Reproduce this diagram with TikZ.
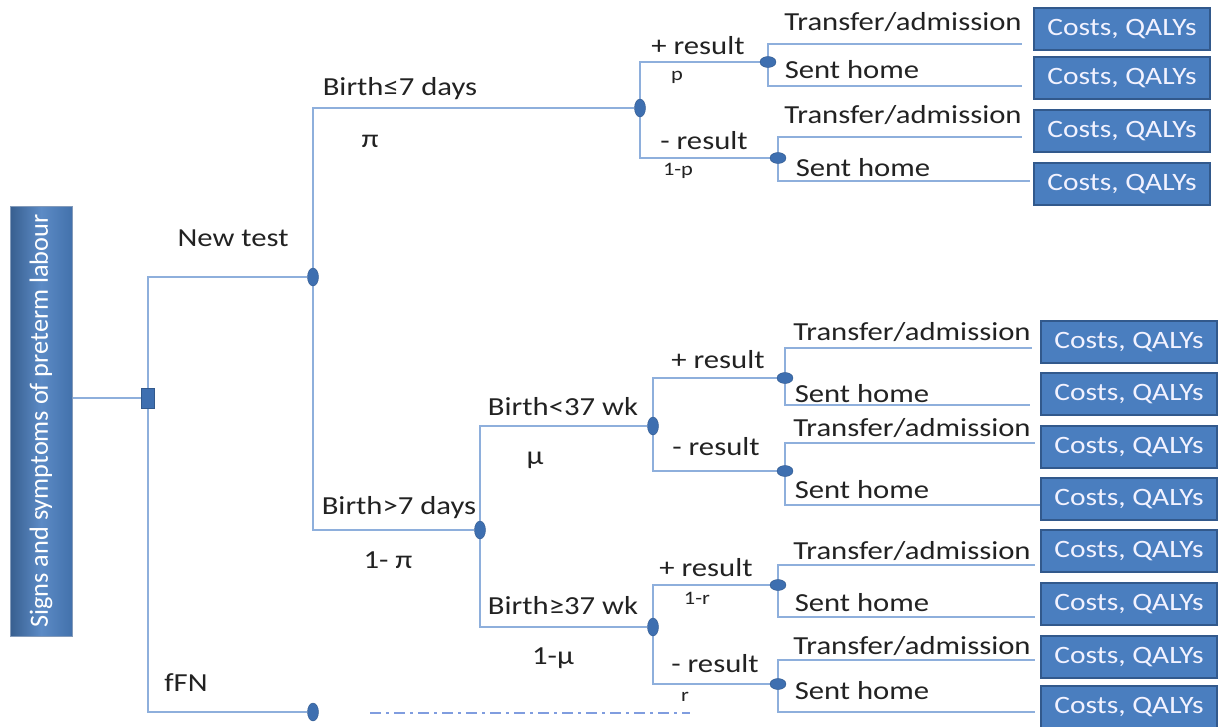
\documentclass[tikz,border=0pt]{standalone}
\usepackage{fontspec}
\setmainfont{Carlito}[FakeStretch=1.18]
\newfontfamily\rootfont{Carlito}
\usetikzlibrary{shapes.geometric}
\pgfdeclarelayer{background}
\pgfsetlayers{background,main}
\definecolor{lnc}{HTML}{8EAFDC}
\definecolor{ndc}{HTML}{3E6FB0}
\definecolor{boxc}{HTML}{4A7EBF}
\definecolor{boxd}{HTML}{32598C}
\definecolor{txt}{HTML}{222222}
\tikzset{
  ln/.style={draw=lnc, line width=1.4pt},
  vch/.style={ellipse, fill=ndc, draw=ndc!80!black, line width=0.4pt, minimum width=11pt, minimum height=18pt, inner sep=0pt},
  hch/.style={ellipse, fill=ndc, draw=ndc!80!black, line width=0.4pt, minimum width=16pt, minimum height=11pt, inner sep=0pt},
  dec/.style={rectangle, fill=ndc, draw=boxd, line width=0.8pt, minimum width=13pt, minimum height=20pt, inner sep=0pt},
  outbox/.style={rectangle, fill=boxc, draw=boxd, line width=1.6pt, minimum width=176pt, minimum height=42pt, inner sep=0pt, text=white!95!blue, font=\fontsize{25}{27}\selectfont},
  lbl/.style={text=txt, inner sep=0pt, font=\fontsize{26}{28}\selectfont},
  sml/.style={text=txt, inner sep=0pt, font=\fontsize{19}{21}\selectfont},
}
\begin{document}
\begin{tikzpicture}[x=1pt,y=-1pt]
\useasboundingbox (0,0) rectangle (1224,726);
% root box
\node[rectangle, minimum width=62pt, minimum height=430pt, inner sep=0pt,
      left color=boxc!75!black, right color=boxc!90!black, middle color=boxc!90!white, draw=boxd!60!white, line width=0.6pt]
      (root) at (41,421) {};
\node[rotate=90, text=white, font=\rootfont\fontsize{26.3}{28}\selectfont] (rootlbl) at (root.center) {Signs and symptoms of preterm labour};
% decision node and chance nodes
\node[dec] (D) at (148,398) {};
\node[vch] (NA) at (313,277) {};
\node[vch] (NF) at (313,712) {};
\node[vch] (NB) at (640,108) {};
\node[vch] (NC) at (480,530) {};
\node[hch] (NB1) at (768,62) {};
\node[hch] (NB2) at (778,158) {};
\node[vch] (ND) at (653,426) {};
\node[vch] (NE) at (653,627) {};
\node[hch] (ND1) at (785,378) {};
\node[hch] (ND2) at (785,471) {};
\node[hch] (NE1) at (778,585) {};
\node[hch] (NE2) at (778,684) {};
% free ends
\coordinate (b1t) at (1022,44);  \coordinate (b1b) at (1022,86);
\coordinate (b2t) at (1022,137); \coordinate (b2b) at (1030,181);
\coordinate (d1t) at (1032,348); \coordinate (d1b) at (1030,405);
\coordinate (d2t) at (1035,443); \coordinate (d2b) at (1040,505);
\coordinate (e1t) at (1035,565); \coordinate (e1b) at (1035,617);
\coordinate (e2t) at (1035,660); \coordinate (e2b) at (1035,712);
\coordinate (f1) at (370,713); \coordinate (f2) at (690,713);
% connectors
\begin{pgfonlayer}{background}
\draw[ln] (root.east |- D) -- (D);
\draw[ln] (D.center) |- (NA);
\draw[ln] (D.center) |- (NF);
\draw[ln] (NA.center) |- (NB);
\draw[ln] (NA.center) |- (NC);
\draw[ln] (NB.center) |- (NB1);
\draw[ln] (NB.center) |- (NB2);
\draw[ln] (NB1.center) |- (b1t);
\draw[ln] (NB1.center) |- (b1b);
\draw[ln] (NB2.center) |- (b2t);
\draw[ln] (NB2.center) |- (b2b);
\draw[ln] (NC.center) |- (ND);
\draw[ln] (NC.center) |- (NE);
\draw[ln] (ND.center) |- (ND1);
\draw[ln] (ND.center) |- (ND2);
\draw[ln] (ND1.center) |- (d1t);
\draw[ln] (ND1.center) |- (d1b);
\draw[ln] (ND2.center) |- (d2t);
\draw[ln] (ND2.center) |- (d2b);
\draw[ln] (NE.center) |- (NE1);
\draw[ln] (NE.center) |- (NE2);
\draw[ln] (NE1.center) |- (e1t);
\draw[ln] (NE1.center) |- (e1b);
\draw[ln] (NE2.center) |- (e2t);
\draw[ln] (NE2.center) |- (e2b);
\draw[draw=lnc!90!blue, line width=1.6pt, dash pattern=on 11pt off 5pt on 3pt off 5pt] (f1) -- (f2);
\end{pgfonlayer}
% outcome boxes
\foreach \n/\x/\y in {o1/1122/29, o2/1122/78, o3/1122/131, o4/1122/184,
                      o5/1129/342, o6/1129/394, o7/1129/447, o8/1129/499,
                      o9/1129/551, o10/1129/604, o11/1129/657, o12/1129/707}
  \node[outbox] (\n) at (\x,\y) {Costs, QALYs};
% labels
\node[lbl] (lnt) at (233,238) {New test};
\node[lbl] (lff) at (186,683) {fFN};
\node[lbl] (lb7) at (400,89) {Birth≤7 days};
\node[lbl] (lpi) at (370,141) {π};
\node[lbl] (lg7) at (399,508) {Birth>7 days};
\node[lbl] (l1pi) at (388,560) {1- π};
\node[lbl] (lp1) at (698,46) {+ result};
\node[sml] (lp) at (677,77) {p};
\node[lbl] (lm1) at (704,141) {- result};
\node[sml] (l1p) at (678,171) {1-p};
\node[lbl] (t1) at (903,22) {Transfer/admission};
\node[lbl] (s1) at (852,70) {Sent home};
\node[lbl] (t2) at (903,115) {Transfer/admission};
\node[lbl] (s2) at (863,168) {Sent home};
\node[lbl] (lb37) at (563,407) {Birth<37 wk};
\node[lbl] (lmu) at (535,460) {μ};
\node[lbl] (lg37) at (563,606) {Birth≥37 wk};
\node[lbl] (l1mu) at (553,658) {1-μ};
\node[lbl] (lp2) at (718,360) {+ result};
\node[lbl] (lm2) at (716,447) {- result};
\node[lbl] (t3) at (912,332) {Transfer/admission};
\node[lbl] (s3) at (862,394) {Sent home};
\node[lbl] (t4) at (912,428) {Transfer/admission};
\node[lbl] (s4) at (862,490) {Sent home};
\node[lbl] (lp3) at (706,568) {+ result};
\node[sml] (l1r) at (697,598) {1-r};
\node[lbl] (lm3) at (715,664) {- result};
\node[sml] (lr) at (685,697) {r};
\node[lbl] (t5) at (912,551) {Transfer/admission};
\node[lbl] (s5) at (862,603) {Sent home};
\node[lbl] (t6) at (912,646) {Transfer/admission};
\node[lbl] (s6) at (862,691) {Sent home};
\end{tikzpicture}
\end{document}
